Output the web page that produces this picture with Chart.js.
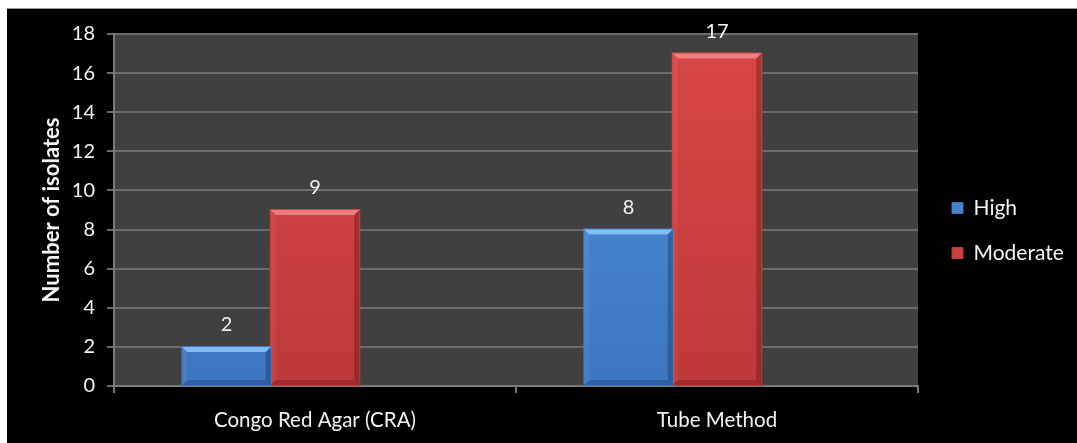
<!DOCTYPE html>
<html>
<head>
<meta charset="utf-8">
<script src="https://cdn.jsdelivr.net/npm/chart.js@4"></script>
<style>
  html, body { margin: 0; padding: 0; background: #ffffff; width: 1077px; height: 443px; overflow: hidden; }
  #frame { position: absolute; left: 7px; top: 8px; width: 1070px; height: 435px; background: #000000; border-top: 1px solid #9a9a9a; box-sizing: border-box; }
  #chart { position: absolute; left: 0; top: 0; }
</style>
</head>
<body>
<div id="frame"><canvas id="chart" width="1070" height="434"></canvas></div>
<script>
// Test methods and biofilm grades
const categories = ['Congo Red Agar (CRA)', 'Tube Method'];
const seriesNames = ['High', 'Moderate'];
const highValues = [2, 8];
const moderateValues = [9, 17];
// third, unused slot in each cluster (keeps the bars in their usual places)
const spareValues = [null, null];
const yTicks = [0, 2, 4, 6, 8, 10, 12, 14, 16, 18];

const FONT = 'Lato, "Open Sans", sans-serif';

const palettes = [
  { top: '#4f92dd', bottom: '#3d76c0', bevelTop: 'rgba(150,210,255,0.75)', left: 'rgba(255,255,255,0.06)', right: 'rgba(0,20,60,0.28)', base: 'rgba(0,20,60,0.22)', swatch: '#4683cf' },
  { top: '#d94747', bottom: '#be3939', bevelTop: 'rgba(255,150,150,0.70)', left: 'rgba(255,255,255,0.05)', right: 'rgba(60,0,0,0.28)', base: 'rgba(60,0,0,0.22)', swatch: '#c94242' }
];

function barFill(idx) {
  return function (ctx) {
    const area = ctx.chart.chartArea;
    if (!area) return palettes[idx].swatch;
    const g = ctx.chart.ctx.createLinearGradient(0, area.top, 0, area.bottom);
    g.addColorStop(0, palettes[idx].top);
    g.addColorStop(1, palettes[idx].bottom);
    return g;
  };
}

function poly(ctx, pts, color) {
  ctx.beginPath();
  ctx.moveTo(pts[0][0], pts[0][1]);
  for (let i = 1; i < pts.length; i++) ctx.lineTo(pts[i][0], pts[i][1]);
  ctx.closePath();
  ctx.fillStyle = color;
  ctx.fill();
}

// Plot background, bevelled bar edges and value labels
const decorations = {
  id: 'decorations',
  beforeDraw(chart) {
    const { ctx, chartArea: a } = chart;
    ctx.save();
    ctx.fillStyle = '#404040';
    ctx.fillRect(a.left, a.top, a.right - a.left, a.bottom - a.top);
    ctx.restore();
  },
  afterLayout(chart) {
    const lg = chart.legend;
    if (lg) { lg.left += 10; lg.right += 10; lg.top -= 8; lg.bottom -= 8; }
  },
  afterDatasetsDraw(chart) {
    const ctx = chart.ctx;
    [0, 1].forEach(di => {
      const meta = chart.getDatasetMeta(di);
      const pal = palettes[di];
      meta.data.forEach((bar, i) => {
        const v = chart.data.datasets[di].data[i];
        if (v === null || v === undefined) return;
        const x0 = bar.x - bar.width / 2, x1 = bar.x + bar.width / 2;
        const yT = bar.y, yB = bar.base;
        const b = Math.min(5, (yB - yT) / 2);
        ctx.save();
        poly(ctx, [[x0, yT], [x1, yT], [x1 - b, yT + b], [x0 + b, yT + b]], pal.bevelTop);
        poly(ctx, [[x0, yT], [x0 + b, yT + b], [x0 + b, yB - b], [x0, yB]], pal.left);
        poly(ctx, [[x1, yT], [x1, yB], [x1 - b, yB - b], [x1 - b, yT + b]], pal.right);
        poly(ctx, [[x0, yB], [x0 + b, yB - b], [x1 - b, yB - b], [x1, yB]], pal.base);
        ctx.fillStyle = '#f2f2f2';
        ctx.font = '20px ' + FONT;
        ctx.textAlign = 'center';
        ctx.textBaseline = 'middle';
        ctx.fillText(String(v), bar.x, yT - 22);
        ctx.restore();
      });
    });
  }
};

const chart = new Chart(document.getElementById('chart'), {
  type: 'bar',
  data: {
    labels: categories,
    datasets: [
      { label: seriesNames[0], data: highValues, backgroundColor: barFill(0), borderWidth: 0, inflateAmount: 1 },
      { label: seriesNames[1], data: moderateValues, backgroundColor: barFill(1), borderWidth: 0, inflateAmount: 1 },
      { label: '', data: spareValues, backgroundColor: 'rgba(0,0,0,0)', borderWidth: 0 }
    ]
  },
  options: {
    responsive: false,
    animation: false,
    devicePixelRatio: 1,
    layout: { padding: { top: 25, left: 0, right: 0, bottom: 0 } },
    datasets: { bar: { categoryPercentage: 0.66, barPercentage: 1.0 } },
    plugins: {
      tooltip: { enabled: false },
      legend: {
        position: 'right',
        align: 'center',
        labels: {
          color: '#f4f4f4',
          font: { family: FONT, size: 21 },
          boxWidth: 11,
          boxHeight: 11,
          padding: 24,
          filter: item => item.text !== '',
          generateLabels: ch => ch.data.datasets.map((ds, i) => ({
            text: ds.label,
            fillStyle: i < 2 ? palettes[i].swatch : 'rgba(0,0,0,0)',
            strokeStyle: i < 2 ? palettes[i].bottom : 'rgba(0,0,0,0)',
            lineWidth: 1,
            fontColor: '#f4f4f4',
            hidden: false,
            datasetIndex: i
          }))
        }
      }
    },
    scales: {
      x: {
        afterFit: s => { s.height = 57; },
        grid: { offset: true, drawOnChartArea: false, drawTicks: true, tickLength: 7, color: '#7a7a7a', lineWidth: 2 },
        border: { display: true, color: '#7a7a7a', width: 2 },
        ticks: { color: '#f4f4f4', font: { family: FONT, size: 20.5 }, padding: 15, maxRotation: 0 }
      },
      y: {
        min: 0,
        max: 18,
        afterFit: s => { s.width = 107; },
        afterBuildTicks: s => { s.ticks = yTicks.map(v => ({ value: v })); },
        grid: { color: '#6c6c6c', lineWidth: 2, drawTicks: true, tickLength: 7 },
        border: { display: true, color: '#7a7a7a', width: 2 },
        ticks: { color: '#f4f4f4', font: { family: FONT, size: 20 }, padding: 12 },
        title: {
          display: true,
          text: 'Number of isolates',
          color: '#f4f4f4',
          font: { family: FONT, size: 22, weight: 'bold' },
          padding: { top: 32, bottom: 0 }
        }
      }
    }
  },
  plugins: [decorations]
});

// legend box spans the strip right of the plot
const baseFit = chart.legend.fit;
chart.legend.fit = function () {
  baseFit.call(this);
  this.width = 1070 - 911;
};
chart.update();
</script>
</body>
</html>
